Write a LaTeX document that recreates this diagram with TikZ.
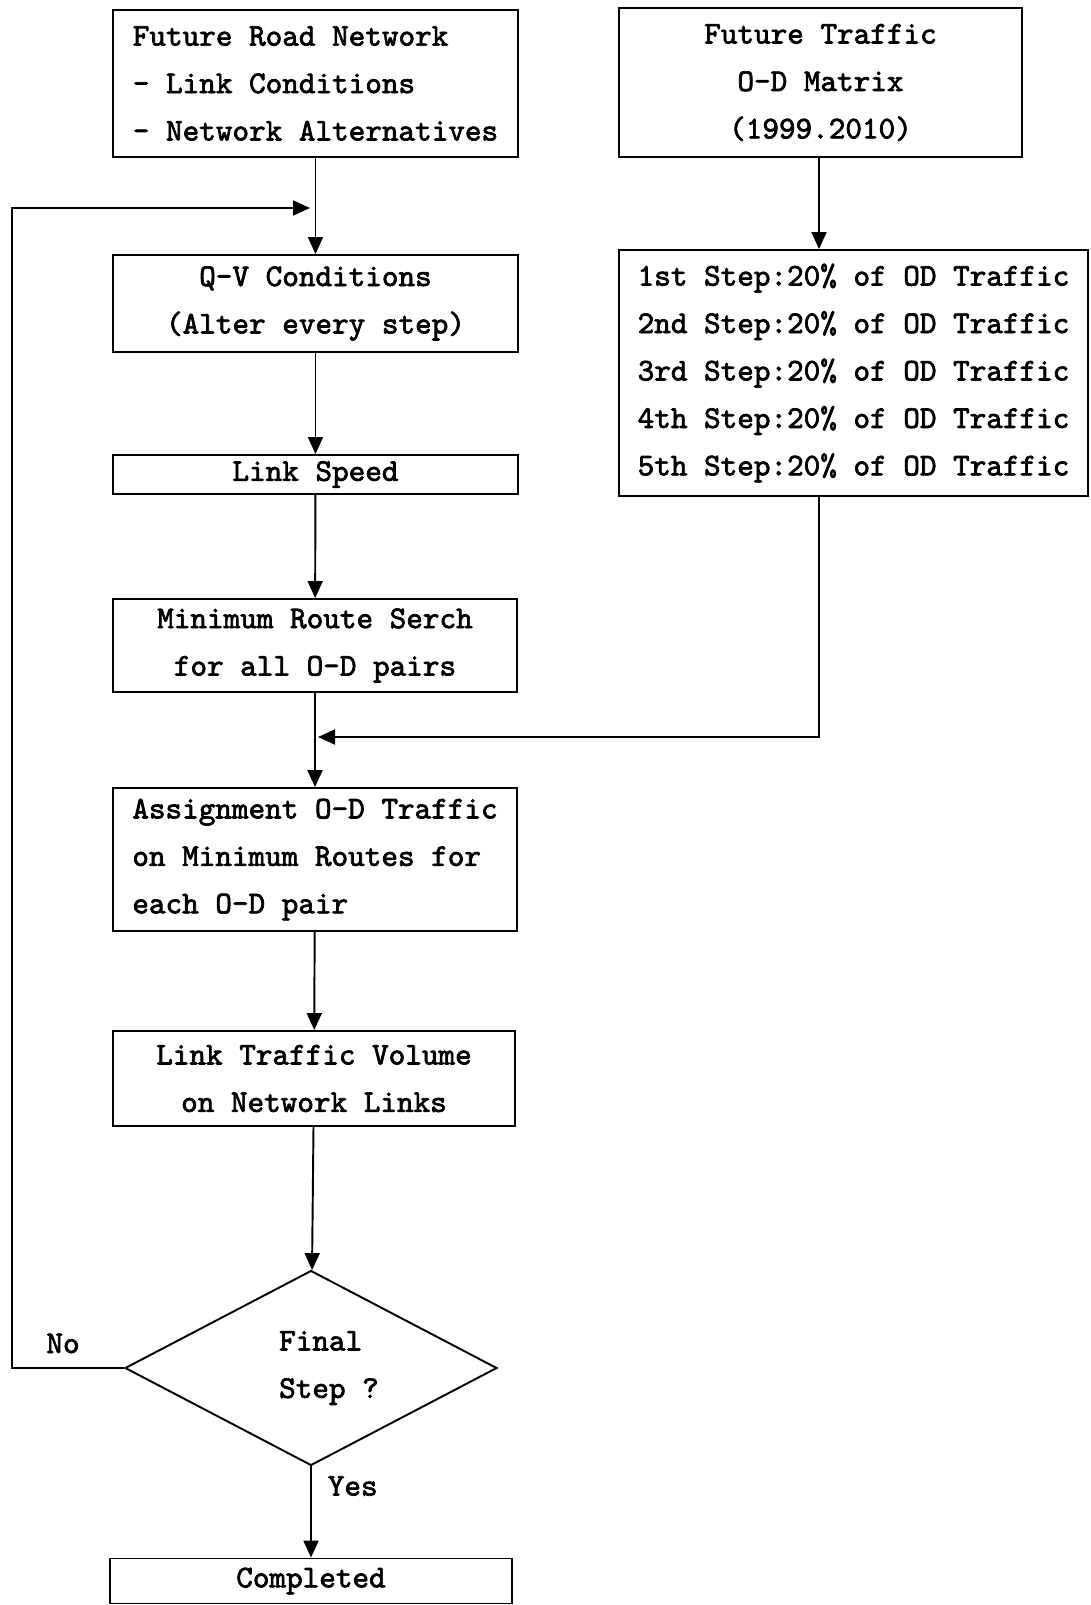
\documentclass[tikz,border=0pt]{standalone}
\usepackage{amsmath}
\usepackage{fontspec}
\usepackage{tikz}
\usetikzlibrary{shapes.geometric,arrows.meta}
\newfontfamily\flowfont{lmmono10-regular.otf}[FakeBold=2.2]

\begin{document}
\begin{tikzpicture}[x=0.02cm, y=-0.02cm, ->, >={Triangle[length=0.34cm,width=0.3cm]}, line width=1.1pt,
        txt/.style={font=\fontsize{18}{27}\selectfont\flowfont},
        box/.style={txt, draw, rectangle, inner sep=0pt}]
                \useasboundingbox (0,0) rectangle (1090,1605);
                \node[box, minimum width=8.1cm, minimum height=2.94cm, align=left] (Net) at (315.5,83.5) {Future Road Network\\- Link Conditions\\- Network Alternatives};
                \node[box, minimum width=8.06cm, minimum height=2.98cm, align=center] (OD) at (820.5,82.5) {Future Traffic\\O-D Matrix\\(1999.2010)};
                \node[box, minimum width=8.1cm, minimum height=1.94cm, align=center] (QV) at (315.5,303.5) {Q-V Conditions\\(Alter every step)};
                \node[box, minimum width=9.38cm, minimum height=4.92cm, align=left] (Steps) at (853.5,373) {1st Step:20\% of OD Traffic\\2nd Step:20\% of OD Traffic\\3rd Step:20\% of OD Traffic\\4th Step:20\% of OD Traffic\\5th Step:20\% of OD Traffic};
                \node[box, minimum width=8.1cm, minimum height=0.78cm] (Speed) at (315.5,474.5) {Link Speed};
                \node[box, minimum width=8.08cm, minimum height=1.86cm, align=center] (Route) at (315,645.5) {Minimum Route Serch\\for all O-D pairs};
                \node[box, minimum width=8.08cm, minimum height=2.86cm, align=left] (Assign) at (315,859.5) {Assignment O-D Traffic\\on Minimum Routes for\\each O-D pair};
                \node[box, minimum width=8.04cm, minimum height=1.9cm, align=center] (Vol) at (314,1078.5) {Link Traffic Volume\\on Network Links};
                \node[box, diamond, minimum width=7.44cm, minimum height=3.9cm,
                      label={[txt, align=left, xshift=0.36cm]center:Final\\Step ?}] (Final) at (311,1368) {};
                \node[box, minimum width=8.04cm, minimum height=0.9cm] (Done) at (311,1581) {Completed};
                \coordinate (Back) at (315,208);
                \coordinate (Join) at (315,737);
                \draw (Net) -- (QV);
                \draw (Final.west) -- (12,1368) node[midway, above, txt, xshift=-0.1cm, yshift=0.16cm] {No} -- (12,208) -- ([xshift=-0.1cm]Back);
                \draw (QV) -- (Speed);
                \draw (Speed) -- (Route);
                \draw (Route) -- (Assign);
                \draw (OD.south -| 819,0) -- (Steps.north -| 819,0);
                \draw (Steps.south -| 819,0) |- ([xshift=0.06cm]Join);
                \draw (Assign) -- (Vol);
                \draw (Vol) -- (Final);
                \draw (Final) -- (Done) node[midway, right, txt, yshift=0.52cm, xshift=0.2cm] {Yes};
            \end{tikzpicture}
\end{document}
